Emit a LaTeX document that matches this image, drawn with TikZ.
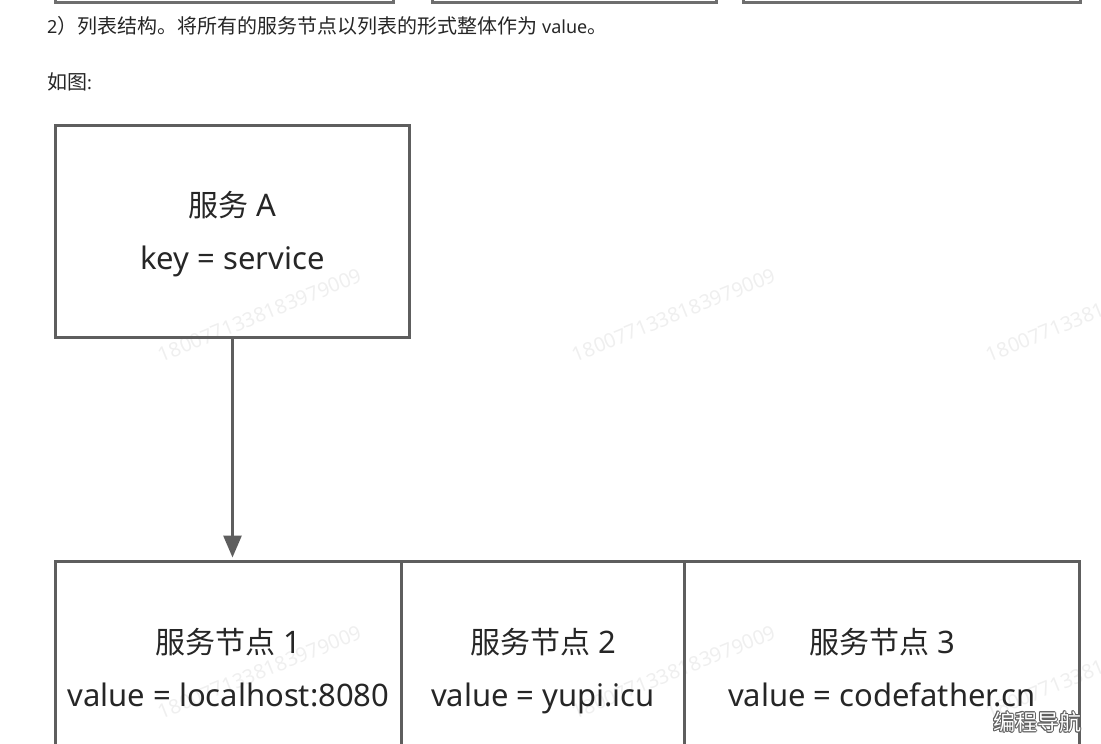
\documentclass[tikz,border=0pt]{standalone}
\usepackage{fontspec}
\setmainfont{Noto Sans}
\newfontfamily\cjk{Noto Sans CJK SC}
\usetikzlibrary{positioning,arrows.meta}
\definecolor{boxgray}{HTML}{5E5E5E}
\definecolor{inkgray}{HTML}{262626}
\definecolor{wmgray}{HTML}{EFEFEF}
\newcommand{\zh}[1]{{\cjk\fontsize{30}{53}\selectfont #1}}
\newcommand{\zhs}[1]{{\cjk\fontsize{20}{24}\selectfont #1}}
\newcommand{\boxstrut}{\rule{0pt}{32pt}}
\tikzset{
  svcbox/.style={draw=boxgray, line width=3pt, outer sep=0pt, inner sep=0pt,
    minimum height=212pt, align=center, text=inkgray,
    font=\fontsize{31}{53}\selectfont},
  topbox/.style={draw=boxgray!90, line width=3pt},
  bodytext/.style={inner sep=0pt, text=inkgray, font=\fontsize{18}{24}\selectfont},
  flowarrow/.style={draw=boxgray, line width=3pt,
    -{Triangle[length=22pt,width=18pt]}, shorten >=4pt},
  watermark/.style={text=wmgray, rotate=22, font=\fontsize{20}{24}\selectfont},
  logo/.style={inner sep=0pt, font=\cjk\fontsize{22}{24}\selectfont}
}
\begin{document}
\begin{tikzpicture}[x=1pt,y=-1pt]
    \useasboundingbox (0,0) rectangle (1101,744);
    \clip (0,0) rectangle (1101,744);
    % watermarks
    \foreach \x in {260,674,1088}
        \foreach \y in {315,672}
            \node[watermark] (wm-\x-\y) at (\x,\y) {1800771338183979009};
    % boxes of the previous figure
    \draw[topbox] (55.5,-100) rectangle (393.5,2);
    \draw[topbox] (432.5,-100) rectangle (716.5,2);
    \draw[topbox] (743.5,-100) rectangle (1080.5,2);
    % text
    \node[bodytext, anchor=base west] (intro) at (47,33)
        {2\zhs{）列表结构。将所有的服务节点以列表的形式整体作为} value\zhs{。}};
    \node[bodytext, anchor=base west] (asfig) at (47,89) {\zhs{如图}:};
    % service and its list
    \node[svcbox, minimum width=354pt] (svcA) at (232.5,231)
        {\boxstrut\zh{服务} A\\key = service\vphantom{y}};
    \node[svcbox, minimum width=346pt] (node1) at (228.5,667.5)
        {\boxstrut\zh{服务节点} 1\\value = localhost:8080\vphantom{y}};
    \node[svcbox, minimum width=283pt, right=0pt of node1] (node2)
        {\boxstrut\zh{服务节点} 2\\value = yupi.icu\vphantom{y}};
    \node[svcbox, minimum width=395pt, right=0pt of node2] (node3)
        {\boxstrut\zh{服务节点} 3\\value = codefather.cn\vphantom{y}};
    \draw[flowarrow] (svcA.south) -- (svcA.south |- node1.north);
    % logo
    \foreach \dx/\dy [count=\i] in {-1/0,1/0,0/-1,0/1,-0.8/-0.8,0.8/0.8,-0.8/0.8,0.8/-0.8}
        \node[logo, text=boxgray] (logo\i) at (1037+\dx,722+\dy) {编程导航};
    \node[logo, text=white] (logo) at (1037,722) {编程导航};
\end{tikzpicture}
\end{document}
